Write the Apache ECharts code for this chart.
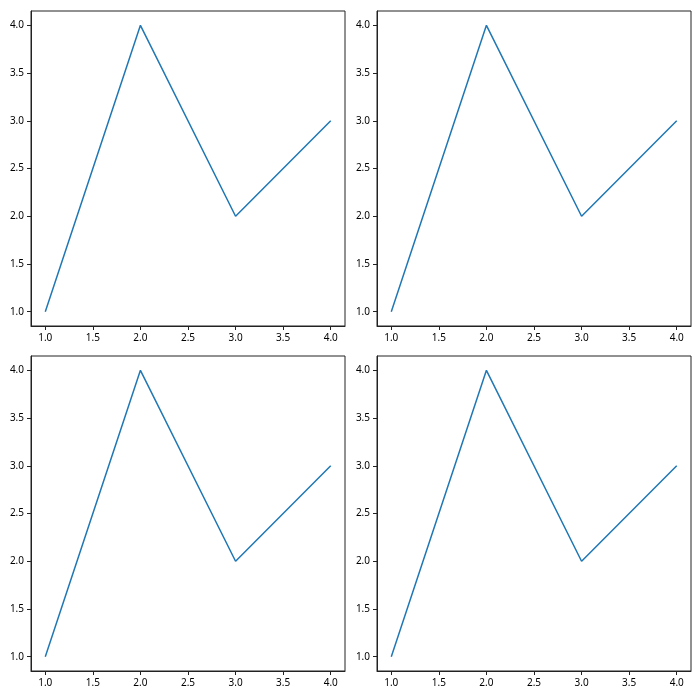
<!DOCTYPE html>
<html><head><meta charset="utf-8">
<script src="https://cdn.jsdelivr.net/npm/echarts@6/dist/echarts.min.js"></script>
<style>html,body{margin:0;padding:0;background:#fff}#c{width:700px;height:700px}</style>
</head><body><div id="c"></div>
<script>
const xValues = [1, 2, 3, 4];
const yValues = [1, 4, 2, 3];
const tickValues = [1.0, 1.5, 2.0, 2.5, 3.0, 3.5, 4.0];

const chart = echarts.init(document.getElementById('c'), null, {renderer: 'canvas'});
const boxes = [
  {left: 31, top: 11}, {left: 377, top: 11},
  {left: 31, top: 356}, {left: 377, top: 356}
];
const W = 314, H = 315;
const grids = [], xAxes = [], yAxes = [], series = [];
const font = {fontFamily: 'Noto Sans', fontSize: 10, color: '#000'};
boxes.forEach((b, i) => {
  grids.push({left: b.left, top: b.top, width: W, height: H, show: true,
    borderColor: '#222', borderWidth: 1, backgroundColor: 'transparent', containLabel: false});
  const ax = (margin) => ({
    type: 'value', gridIndex: i, min: 0.85, max: 4.15,
    splitLine: {show: false},
    axisLine: {show: true, onZero: false, lineStyle: {color: '#222', width: 1}},
    axisTick: {show: true, length: 4, lineStyle: {color: '#222'}, customValues: tickValues},
    axisLabel: Object.assign({margin: margin, customValues: tickValues,
      formatter: v => v.toFixed(1)}, font)
  });
  xAxes.push(ax(7));
  yAxes.push(ax(7));
  series.push({type: 'line', xAxisIndex: i, yAxisIndex: i,
    data: xValues.map((x, k) => [x, yValues[k]]),
    symbol: 'none', lineStyle: {color: '#1f77b4', width: 1.5}, animation: false});
});
chart.setOption({animation: false, grid: grids, xAxis: xAxes, yAxis: yAxes, series: series});
</script></body></html>
